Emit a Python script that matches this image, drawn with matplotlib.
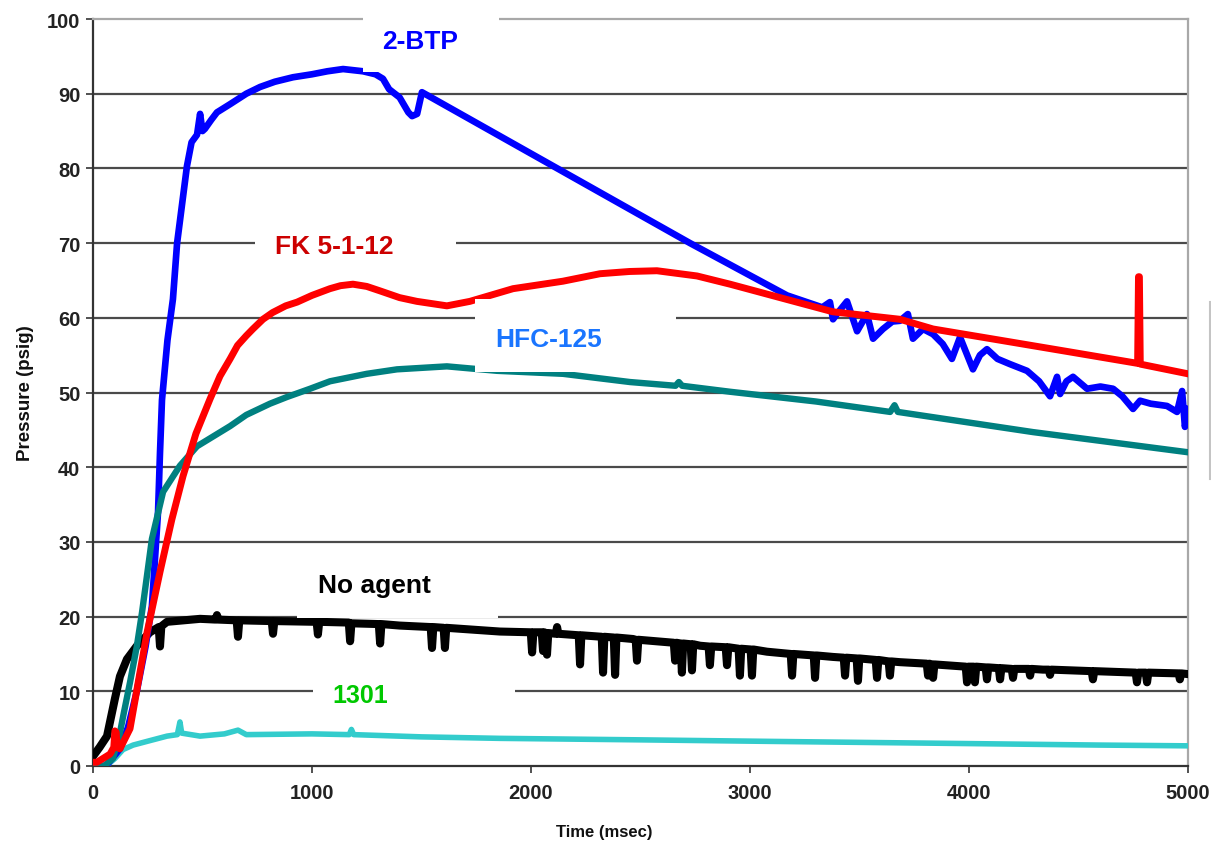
import matplotlib
matplotlib.use("Agg")
import matplotlib.pyplot as plt
from matplotlib import font_manager
from matplotlib.patches import Rectangle
from matplotlib.lines import Line2D

# ---------------- data ----------------
btp_t = [0, 60, 68, 123, 160, 200, 240, 269, 297, 306, 315, 340, 365, 384, 429, 450, 475, 489, 500,
         511, 540, 566, 626, 700, 763, 830, 913, 1000, 1070, 1142, 1233, 1290, 1324, 1352, 1400, 1440,
         1457, 1480, 1502, 2726, 3169, 3330, 3365, 3379, 3410, 3443, 3489, 3534,
         3562, 3607, 3650, 3685, 3721, 3744, 3790, 3836, 3880, 3922, 3959, 4018, 4050, 4082, 4130,
         4187, 4265, 4320, 4370, 4402, 4416, 4445, 4475, 4539, 4600, 4658, 4700, 4749, 4781, 4830,
         4904, 4950, 4973, 4986, 5000]
btp_p = [0, 0, 0.3, 2.3, 5.2, 10, 16, 21.4, 34, 42, 49, 57, 62.5, 70, 80.3, 83.5, 84.5, 87.3, 85,
         85.3, 86.5, 87.5, 88.6, 90, 90.9, 91.6, 92.2, 92.6, 93.0, 93.3, 93.0, 92.6, 92.0, 90.6, 89.5,
         87.5, 87.0, 87.3, 90.2, 70.0, 63.0, 61.4, 62.1, 59.8, 61.0, 62.2, 58.2, 60.5,
         57.2, 58.5, 59.5, 59.6, 60.5, 57.2, 58.5, 57.8, 56.5, 54.5, 57.4, 53.1, 55.0, 55.8, 54.5,
         53.8, 52.9, 51.5, 49.5, 52.1, 49.8, 51.5, 52.1, 50.5, 50.8, 50.5, 49.5, 47.8, 48.9, 48.5,
         48.2, 47.4, 50.2, 45.4, 47.8]

fk_t = [0, 18, 78, 95, 100, 106, 110, 123, 169, 201, 247, 306, 360, 411, 470, 534, 580, 626, 660,
        700, 730, 776, 820, 880, 932, 1000, 1082, 1130, 1187, 1250, 1311, 1400, 1479, 1616, 1721,
        1918, 2146, 2315, 2450, 2575, 2758, 2909, 3150, 3379, 3685, 3836, 4142, 4447, 4770, 4774,
        4778, 4782, 5000]
fk_p = [0.5, 0.5, 1.6, 2.5, 4.7, 4.5, 2.5, 2.3, 5.0, 10.3, 17.9, 26.0, 33.0, 38.8, 44.5, 49.1, 52.2,
        54.5, 56.3, 57.6, 58.5, 59.8, 60.7, 61.6, 62.1, 63.0, 63.9, 64.3, 64.5, 64.2, 63.6, 62.7,
        62.2, 61.6, 62.2, 63.9, 64.9, 65.9, 66.2, 66.3, 65.6, 64.5, 62.6, 60.8, 59.8, 58.5, 57.0,
        55.5, 53.9, 65.5, 65.5, 53.8, 52.5]

hfc_t = [0, 50, 91, 120, 140, 169, 200, 224, 269, 320, 397, 475, 626, 700, 808, 886, 991, 1082,
         1250, 1388, 1616, 1845, 2146, 2452, 2660, 2675, 2690, 2909, 3300, 3640, 3660, 3675, 4292,
         5000]
hfc_p = [0, 0, 1.0, 4.0, 7.0, 11.2, 16.0, 20.6, 30.4, 36.7, 40.2, 42.8, 45.5, 47.0, 48.5, 49.4,
         50.5, 51.5, 52.5, 53.1, 53.5, 52.9, 52.5, 51.4, 50.9, 51.4, 50.9, 50.1, 48.8, 47.4, 48.3,
         47.4, 44.7, 42.0]

none_t = [0, 30, 64, 100, 123, 155, 201, 260, 300, 306, 312, 338, 489, 560, 566, 572, 656, 662, 668,
          816, 822, 828, 1000, 1021, 1027, 1033, 1168, 1174, 1180, 1305, 1311, 1317, 1400, 1542,
          1548, 1554, 1601, 1607, 1613, 1858, 1999, 2005, 2011, 2049, 2055, 2061, 2067, 2073, 2079,
          2113, 2119, 2125, 2218,
          2224, 2230, 2323, 2329, 2335, 2378, 2384, 2390, 2466, 2478, 2484, 2490, 2652, 2658, 2664,
          2683, 2689, 2695, 2729, 2735, 2741, 2772, 2811, 2817, 2823, 2889, 2895, 2901, 2948, 2954,
          2960, 3003, 3009, 3015, 3078, 3186, 3192, 3198, 3291, 3297, 3303, 3379, 3428, 3434, 3440,
          3487, 3493, 3499, 3574, 3580, 3586, 3633, 3639, 3645, 3685, 3807, 3813, 3819, 3830, 3836,
          3842, 3985, 3991, 3997, 4021, 4027, 4033, 4076, 4082, 4088, 4136, 4142, 4148, 4195, 4201,
          4207, 4273, 4279, 4285, 4338, 4364, 4370, 4376, 4560, 4566, 4572, 4761, 4767, 4773, 4807,
          4813, 4819, 4957, 4963, 4969, 5000]
none_p = [1.3, 2.5, 4.0, 9.0, 12.0, 14.3, 16.1, 17.9, 18.6, 16.0, 18.7, 19.3, 19.7, 19.6, 20.2, 19.6,
          19.5, 17.3, 19.5,
          19.4, 17.7, 19.4, 19.3, 19.3, 17.6, 19.3, 19.2, 16.7, 19.1, 19.0, 16.4, 19.0, 18.8, 18.6,
          15.8, 18.6, 18.5, 15.8, 18.5, 18.0, 17.9, 15.2, 17.9, 17.9, 15.4, 17.9, 17.8, 14.9, 17.8,
          17.7, 18.6, 17.7, 17.5, 13.6, 17.5, 17.3, 12.5, 17.3, 17.2, 12.2, 17.2, 17.0, 16.9, 14.1,
          16.9, 16.5,
          14.1, 16.5, 16.4, 12.5, 16.4, 16.3, 12.8, 16.3, 16.1, 16.0, 13.5, 16.0, 15.9, 13.5, 15.9,
          15.7, 12.1, 15.7, 15.6, 12.1, 15.6, 15.3, 15.0, 12.1, 15.0, 14.8, 11.8, 14.8, 14.6, 14.5,
          12.1, 14.5, 14.4, 11.4, 14.4, 14.2, 11.8, 14.2, 14.0, 12.1, 14.0, 13.9, 13.7, 12.1, 13.7,
          13.6, 11.8, 13.6, 13.3, 11.2, 13.3, 13.3, 11.2, 13.3, 13.2, 11.6, 13.2, 13.1, 11.6, 13.1,
          13.0, 11.8, 13.0, 13.0, 12.1, 13.0, 12.9, 12.9, 12.2, 12.9, 12.7, 11.6, 12.7, 12.5, 11.2,
          12.5, 12.5, 11.2, 12.5, 12.4, 11.6, 12.4, 12.3]

h1301_t = [60, 100, 137, 183, 260, 338, 385, 397, 405, 489, 600, 662, 700, 1000, 1170, 1180, 1190,
           1500, 1858, 2500, 3078, 4000, 4600, 5000]
h1301_p = [0, 1.0, 2.2, 2.8, 3.4, 4.0, 4.2, 5.9, 4.4, 4.0, 4.3, 4.8, 4.2, 4.3, 4.2, 4.9, 4.2, 3.9,
           3.7, 3.5, 3.3, 3.0, 2.8, 2.7]

x_ticks = [0, 1000, 2000, 3000, 4000, 5000]
y_ticks = [0, 10, 20, 30, 40, 50, 60, 70, 80, 90, 100]
labels = ["2-BTP", "FK 5-1-12", "HFC-125", "No agent", "1301"]

# ---------------- fonts ----------------
def has_font(name):
    try:
        font_manager.findfont(font_manager.FontProperties(family=name), fallback_to_default=False)
        return True
    except Exception:
        return False

narrow = "Liberation Sans Narrow" if has_font("Liberation Sans Narrow") else "Liberation Sans"
tick_size = 16 if narrow == "Liberation Sans Narrow" else 14.5
plt.rcParams["font.family"] = ["Liberation Sans", "DejaVu Sans"]

W, H = 1211, 845
fig = plt.figure(figsize=(W / 100, H / 100), dpi=100)
ax = fig.add_axes([93 / W, 1 - 767 / H, (1188 - 93) / W, (767 - 20) / H])
ax.set_xlim(0, 5000)
ax.set_ylim(0, 100)

ax.set_yticks(y_ticks)
ax.set_xticks(x_ticks)
ax.grid(False)
for v in y_ticks[1:-1]:
    ax.axhline(v, color="#4a4a4a", lw=1.6, zorder=1)

for s in ["top", "right"]:
    ax.spines[s].set_color("#a8a8a8")
    ax.spines[s].set_linewidth(1.6)
for s in ["left", "bottom"]:
    ax.spines[s].set_color("#333333")
    ax.spines[s].set_linewidth(1.6)

ax.tick_params(axis="both", direction="out", length=5, width=1.2, color="#333333")
ax.tick_params(axis="y", pad=4)
ax.tick_params(axis="x", pad=7)
for lab in ax.get_xticklabels() + ax.get_yticklabels():
    lab.set_fontfamily(narrow)
    lab.set_fontweight("bold")
    lab.set_fontsize(tick_size)
    lab.set_color("#222222")

# series (bottom to top)
ax.plot(h1301_t, h1301_p, color="#33cccc", lw=4.0, zorder=3, solid_joinstyle="round")
ax.plot(none_t, none_p, color="#000000", lw=5.8, zorder=3.1, solid_joinstyle="round")
ax.plot(btp_t, btp_p, color="#0000ff", lw=4.8, zorder=3.2, solid_joinstyle="round")
ax.plot(hfc_t, hfc_p, color="#008080", lw=4.6, zorder=3.3, solid_joinstyle="round")
ax.plot(fk_t, fk_p, color="#ff0000", lw=5.0, zorder=3.4, solid_joinstyle="round")

# white label boxes
boxes = [(1233, 92.9, 1854 - 1233, 9.0, False),
         (740, 67.2, 1658 - 740, 5.4, True),
         (1744, 52.7, 2662 - 1744, 9.8, True),
         (932, 19.8, 1849 - 932, 8.6, True),
         (1005, 7.4, 1927 - 1005, 5.3, True)]
for x0, y0, w, h, clip in boxes:
    ax.add_patch(Rectangle((x0, y0), w, h, facecolor="white", edgecolor="none",
                           zorder=4, clip_on=clip))

label_pos = [(1493, 96.1), (1103, 68.7), (2080, 56.2), (1283, 23.3), (1221, 8.6)]
label_col = ["#0000ff", "#cc0000", "#1a75ff", "#000000", "#00c800"]
label_size = [19, 19, 19, 19, 18]
for txt, (x, y), c, fs in zip(labels, label_pos, label_col, label_size):
    ax.text(x, y, txt, color=c, fontsize=fs, fontweight="bold", ha="center", va="baseline",
            zorder=5)

# axis titles
fig.text(604 / W, 1 - 833 / H, "Time (msec)", ha="center", va="center", fontsize=12,
         fontweight="bold", family=narrow, color="#111111")
fig.text(25 / W, 1 - 393 / H, "Pressure (psig)", ha="center", va="center", rotation=90,
         fontsize=13.5, fontweight="bold", color="#111111")

# clipped legend frame edge at the right border of the image
fig.add_artist(Line2D([1209.5 / W, 1209.5 / W], [1 - 480 / H, 1 - 303 / H],
                      transform=fig.transFigure, color="#c4c4c4", lw=1.5))

fig.savefig("out.png", dpi=100)
